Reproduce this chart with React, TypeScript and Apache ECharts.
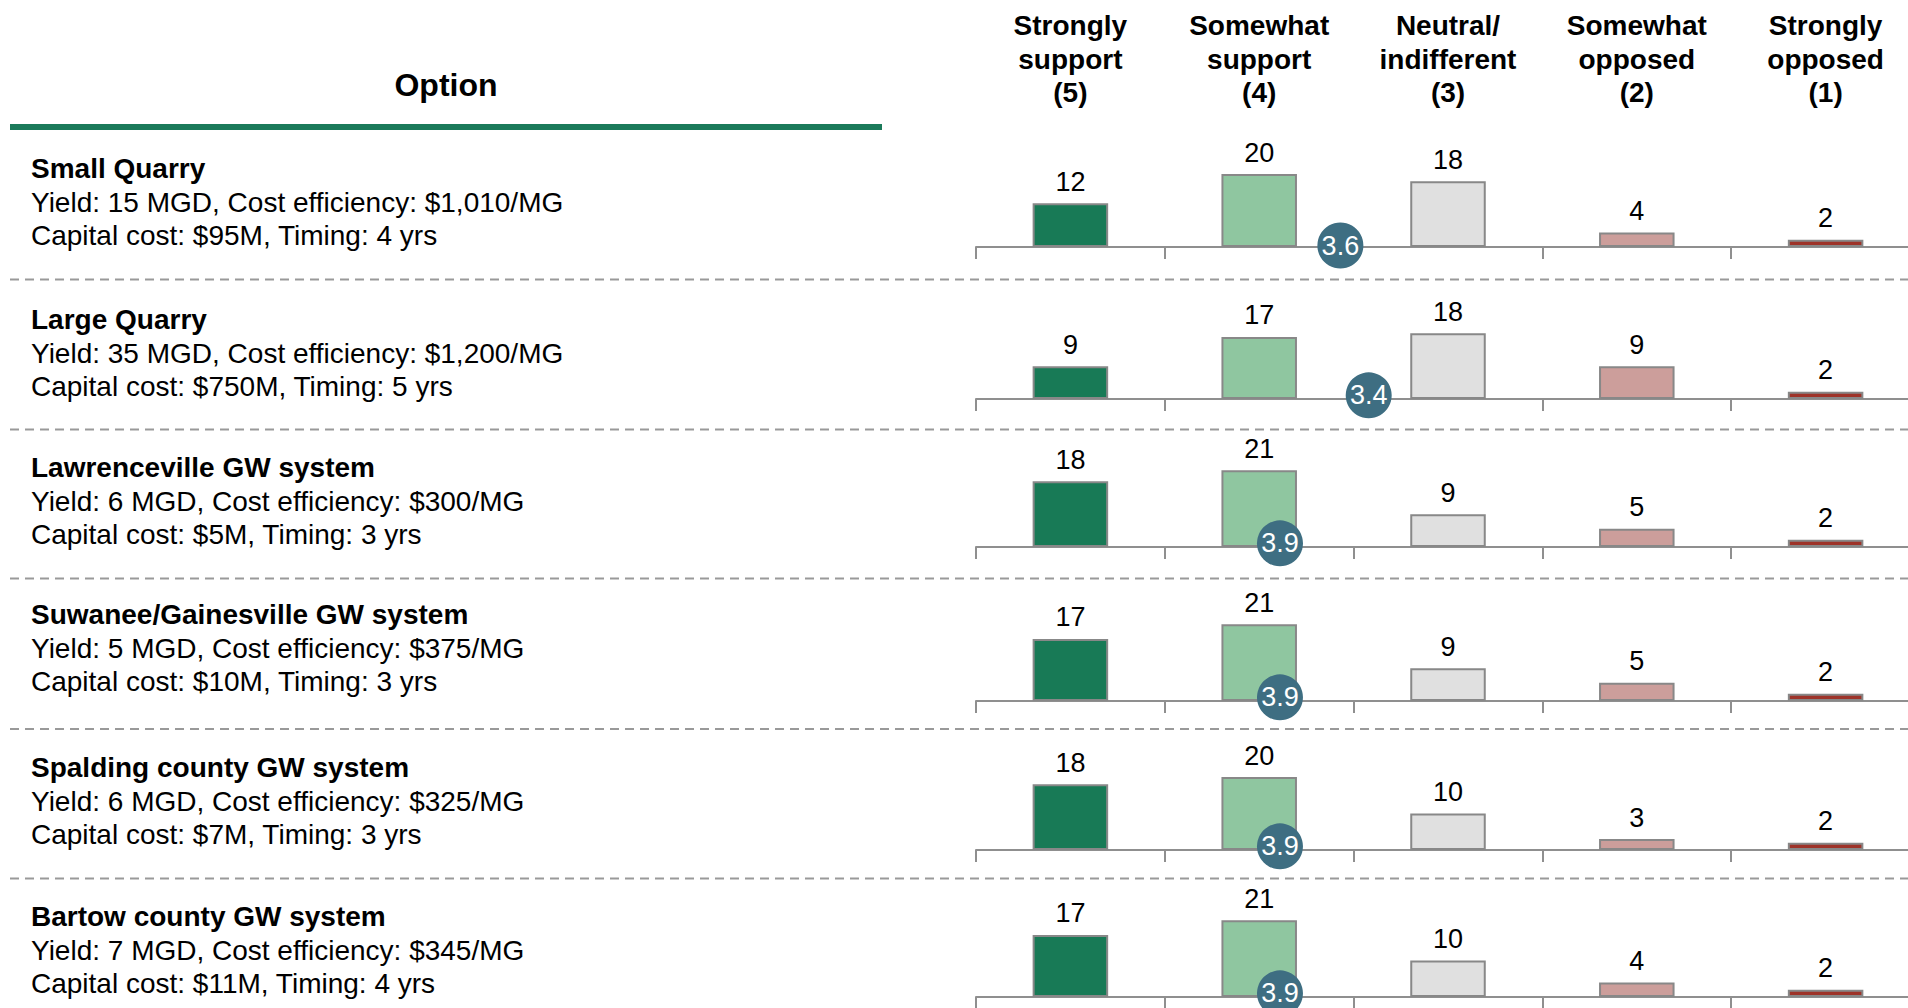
import React, { useEffect, useRef } from "react";
import * as echarts from "echarts";

// ---------------- data ----------------
const OPTION_NAMES = [
  "Small Quarry",
  "Large Quarry",
  "Lawrenceville GW system",
  "Suwanee/Gainesville GW system",
  "Spalding county GW system",
  "Bartow county GW system",
];
const YIELD_LINES = [
  "Yield: 15 MGD, Cost efficiency: $1,010/MG",
  "Yield: 35 MGD, Cost efficiency: $1,200/MG",
  "Yield: 6 MGD, Cost efficiency: $300/MG",
  "Yield: 5 MGD, Cost efficiency: $375/MG",
  "Yield: 6 MGD, Cost efficiency: $325/MG",
  "Yield: 7 MGD, Cost efficiency: $345/MG",
];
const CAPITAL_LINES = [
  "Capital cost: $95M, Timing: 4 yrs",
  "Capital cost: $750M, Timing: 5 yrs",
  "Capital cost: $5M, Timing: 3 yrs",
  "Capital cost: $10M, Timing: 3 yrs",
  "Capital cost: $7M, Timing: 3 yrs",
  "Capital cost: $11M, Timing: 4 yrs",
];
const RESPONSE_LABELS = [
  "Strongly\nsupport\n(5)",
  "Somewhat\nsupport\n(4)",
  "Neutral/\nindifferent\n(3)",
  "Somewhat\nopposed\n(2)",
  "Strongly\nopposed\n(1)",
];
const SMALL_QUARRY = [12, 20, 18, 4, 2];
const LARGE_QUARRY = [9, 17, 18, 9, 2];
const LAWRENCEVILLE = [18, 21, 9, 5, 2];
const SUWANEE = [17, 21, 9, 5, 2];
const SPALDING = [18, 20, 10, 3, 2];
const BARTOW = [17, 21, 10, 4, 2];
const COUNTS = [SMALL_QUARRY, LARGE_QUARRY, LAWRENCEVILLE, SUWANEE, SPALDING, BARTOW];
// mean scores (shown rounded to one decimal; position)
const MEAN_SCORES = [3.57, 3.42, 3.89, 3.89, 3.89, 3.89];
const HEADER_TITLE = "Option";

// ---------------- layout / style ----------------
const W = 1908;
const H = 1008;
const FONT = "'Liberation Sans', Arial, Helvetica, sans-serif";
const AXIS_Y = [247, 399, 547, 701, 850, 997];
const TITLE_Y = [168, 319, 467, 614, 767, 916];
const SEP_Y = [279.5, 429.5, 578.5, 729, 878.5];
const GRID_LEFT = 976;
const GRID_W = 944;
const Y_MAX = 30;
const GRID_H = 109.5;
const BAR_COLORS = ["#187a56", "#8fc6a0", "#e0e0e0", "#cc9e9b", "#9e3329"];
const AXIS_COLOR = "#8f8f8f";
const DOT_COLOR = "#3e6e82";

function buildOption() {
  const grid: any[] = [];
  const xAxis: any[] = [];
  const yAxis: any[] = [];
  const series: any[] = [];

  COUNTS.forEach((vals, i) => {
    grid.push({
      left: GRID_LEFT,
      width: GRID_W,
      top: AXIS_Y[i] - GRID_H,
      height: GRID_H,
      containLabel: false,
      outerBoundsMode: "none",
    });
    xAxis.push({
      type: "category",
      gridIndex: i,
      data: RESPONSE_LABELS,
      position: "bottom",
      boundaryGap: true,
      axisLine: { show: true, lineStyle: { color: AXIS_COLOR, width: 2 } },
      axisTick: { show: true, length: 12, lineStyle: { color: AXIS_COLOR, width: 2 } },
      axisLabel: { show: false },
      splitLine: { show: false },
    });
    xAxis.push({
      type: "value",
      gridIndex: i,
      min: 0.5,
      max: 5.5,
      inverse: true,
      show: false,
    });
    yAxis.push({ type: "value", gridIndex: i, min: 0, max: Y_MAX, show: false });

    series.push({
      type: "bar",
      xAxisIndex: 2 * i,
      yAxisIndex: i,
      barWidth: "40%",
      data: vals,
      itemStyle: {
        color: (p: any) => BAR_COLORS[p.dataIndex],
        borderColor: "#888888",
        borderWidth: 2,
      },
      label: {
        show: true,
        position: "top",
        distance: 8,
        fontSize: 27,
        fontFamily: FONT,
        color: "#000",
      },
      z: 2,
    });
    series.push({
      type: "scatter",
      xAxisIndex: 2 * i + 1,
      yAxisIndex: i,
      data: [[MEAN_SCORES[i], i === 0 ? 0.4 : 1]],
      symbol: "circle",
      symbolSize: 46,
      itemStyle: { color: DOT_COLOR, opacity: 1 },
      label: {
        show: true,
        position: "inside",
        formatter: (p: any) => Number(p.value[0]).toFixed(1),
        fontSize: 27,
        fontFamily: FONT,
        color: "#ffffff",
      },
      z: 5,
    });
  });

  // column header axis on top of first grid
  xAxis.push({
    type: "category",
    gridIndex: 0,
    position: "top",
    data: RESPONSE_LABELS,
    boundaryGap: true,
    axisLine: { show: false },
    axisTick: { show: false },
    splitLine: { show: false },
    axisLabel: {
      show: true,
      interval: 0,
      margin: 28,
      fontSize: 28,
      fontWeight: "bold",
      lineHeight: 33.5,
      fontFamily: FONT,
      color: "#000",
      align: "center",
    },
  });

  const graphic: any[] = [];
  graphic.push({
    type: "text",
    x: 446,
    y: 85,
    style: {
      text: HEADER_TITLE,
      fontSize: 32,
      fontWeight: "bold",
      fontFamily: FONT,
      fill: "#000",
      align: "center",
      verticalAlign: "middle",
      textAlign: "center",
      textVerticalAlign: "middle",
    },
  });
  graphic.push({
    type: "line",
    shape: { x1: 10, y1: 127, x2: 882, y2: 127 },
    style: { stroke: "#1b7a5a", lineWidth: 6 },
  });
  SEP_Y.forEach((y) => {
    graphic.push({
      type: "line",
      shape: { x1: 10, y1: y, x2: W, y2: y },
      style: { stroke: "#999999", lineWidth: 2, lineDash: [9, 6] },
    });
  });
  OPTION_NAMES.forEach((name, i) => {
    const lines = [
      { text: name, bold: true, dy: 0 },
      { text: YIELD_LINES[i], bold: false, dy: 34.5 },
      { text: CAPITAL_LINES[i], bold: false, dy: 67 },
    ];
    lines.forEach((l) => {
      graphic.push({
        type: "text",
        x: 31,
        y: TITLE_Y[i] + l.dy,
        style: {
          text: l.text,
          fontSize: 28,
          fontWeight: l.bold ? "bold" : "normal",
          fontFamily: FONT,
          fill: "#000",
          align: "left",
          verticalAlign: "middle",
          textAlign: "left",
          textVerticalAlign: "middle",
        },
      });
    });
  });

  return {
    animation: false,
    backgroundColor: "#ffffff",
    textStyle: { fontFamily: FONT },
    grid,
    xAxis,
    yAxis,
    series,
    graphic,
  };
}

export default function App() {
  const ref = useRef<HTMLDivElement>(null);
  useEffect(() => {
    if (!ref.current) return;
    const chart = echarts.init(ref.current, undefined, { renderer: "svg", width: W, height: H });
    chart.setOption(buildOption() as any);
    return () => chart.dispose();
  }, []);
  return (
    <div
      ref={ref}
      style={{ position: "fixed", left: 0, top: 0, width: W, height: H, background: "#fff" }}
    />
  );
}
